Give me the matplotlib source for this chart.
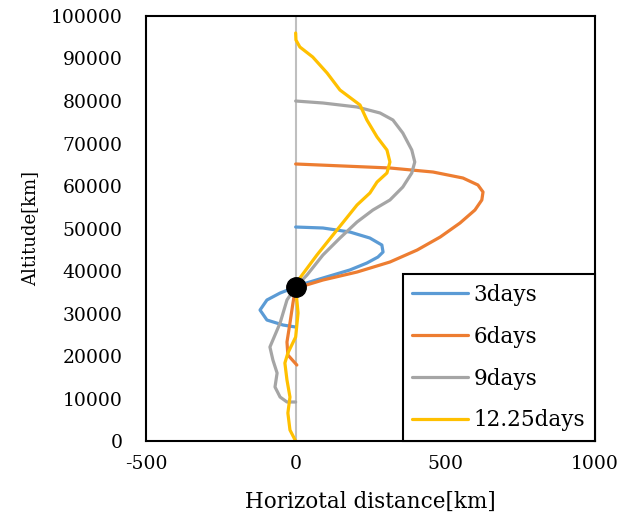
import matplotlib
matplotlib.use("Agg")
import matplotlib.pyplot as plt

plt.rcParams['font.family'] = ['DejaVu Serif']
plt.rcParams['axes.unicode_minus'] = False

# horizontal distance [km], altitude [km] for each release time
x_3d = [0, 91, 181, 248, 288, 292, 275, 238, 181, 91, 14, 0,
        -52, -96, -119, -96, -42, 0]
y_3d = [50350, 50120, 49180, 47760, 46120, 44470, 43290, 41880, 40240, 38350,
        36710, 36240, 34820, 33180, 30820, 28470, 27290, 26820]

x_6d = [0, 315, 459, 559, 609, 626, 622, 599, 549, 483, 406, 315, 205, 91, 14, 0,
        -9, -19, -29, -26, 4]
y_6d = [65180, 64240, 63290, 61880, 60240, 58590, 56710, 54350, 51290, 48000,
        44940, 42120, 39760, 37880, 36240, 36240, 32470, 27760, 23290, 20240, 17880]

x_9d = [0, 91, 205, 282, 325, 358, 388, 398, 388, 358, 315, 258, 205, 148, 91,
        38, 0, -29, -52, -86, -76, -62, -69, -52, -29, 0]
y_9d = [80000, 79530, 78590, 77180, 75530, 72470, 68470, 65650, 63060, 59760,
        56710, 54350, 51530, 47760, 43760, 39060, 36240, 33180, 27760, 22120,
        19060, 16000, 12710, 10350, 9180, 9180]

x_12d = [0, 1, 14, 57, 105, 148, 215, 238, 272, 305, 315, 305, 272, 248, 205,
         138, 71, 14, 0, 8, 0, -26, -36, -29, -19, -26, -19, 0]
y_12d = [96000, 94350, 92710, 90350, 86590, 82590, 79060, 75530, 71530, 68470,
         65650, 63060, 60940, 58350, 55530, 49650, 43760, 38350, 36240, 30120,
         24470, 20710, 18350, 14350, 10350, 6590, 2590, 0]

start_x, start_y = 0, 36240

fig = plt.figure(figsize=(6.37, 5.16), dpi=100)
ax = fig.add_axes([0.2292, 0.1453, 0.7048, 0.8237])

ax.axvline(0, color='#BFBFBF', linewidth=1.5, zorder=1)

kw = dict(linewidth=2.3, solid_capstyle='round', solid_joinstyle='round')
ax.plot(x_3d, y_3d, color='#5B9BD5', label='3days', **kw)
ax.plot(x_6d, y_6d, color='#ED7D31', label='6days', **kw)
ax.plot(x_9d, y_9d, color='#A5A5A5', label='9days', **kw)
ax.plot(x_12d, y_12d, color='#FFC000', label='12.25days', **kw)
ax.plot([start_x], [start_y], 'o', color='black', markersize=14, zorder=5)

ax.set_xlim(-500, 1000)
ax.set_ylim(0, 100000)
ax.set_xticks([-500, 0, 500, 1000])
ax.set_yticks(range(0, 100001, 10000))
ax.tick_params(length=0, labelsize=13.5)
ax.tick_params(axis='y', pad=17)
ax.tick_params(axis='x', pad=10)
for s in ax.spines.values():
    s.set_linewidth(1.5)

ax.set_xlabel('Horizotal distance[km]', fontsize=15.5, labelpad=13)
ax.set_ylabel('Altitude[km]', fontsize=13, labelpad=8)

leg = ax.legend(loc='lower right', borderaxespad=0, fancybox=False,
                edgecolor='black', fontsize=15.5, handlelength=2.6,
                labelspacing=0.92, borderpad=0.45, handletextpad=0.25)
leg.get_frame().set_linewidth(1.5)
leg.get_frame().set_alpha(1)

fig.savefig('out.png', dpi=100)
